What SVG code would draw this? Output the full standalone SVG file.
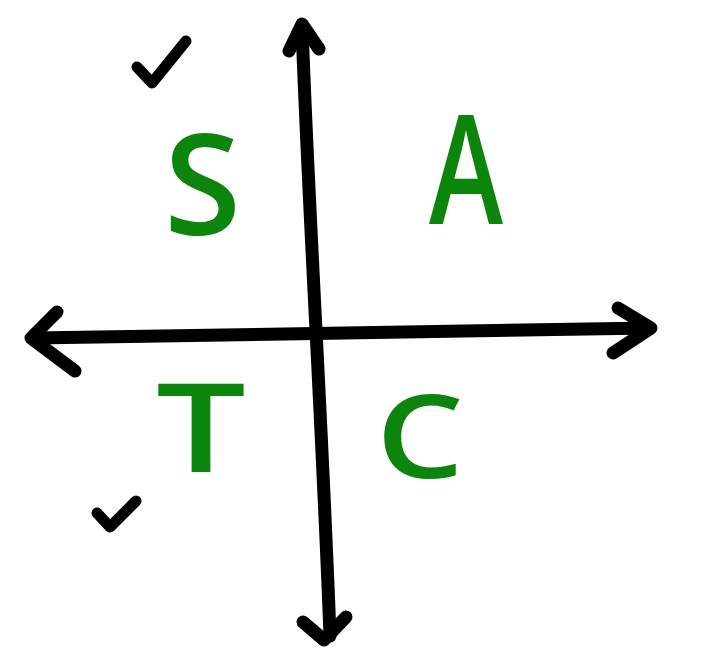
<svg xmlns="http://www.w3.org/2000/svg" width="704" height="651" viewBox="0 0 704 651">
<style>
.ax{fill:none;stroke:#000;stroke-width:13;stroke-linecap:round;stroke-linejoin:round}
.ck{fill:none;stroke:#000;stroke-width:11;stroke-linecap:round;stroke-linejoin:round}
.lt{font-family:"Open Sans","DejaVu Sans",sans-serif;font-weight:600;fill:#0b850b}
</style>
<rect width="704" height="651" fill="#fff"/>
<g id="connectors">
<path class="ax" d="M302,26 C308,200 322,420 330,636"/>
<path class="ax" d="M289,51 L302,24 L319,49"/>
<path class="ax" d="M303,622 L324,640 L346,617"/>
<path class="ax" d="M34,338 C250,335 450,331 650,328"/>
<path class="ax" d="M57,312 L31,338 L75,371"/>
<path class="ax" d="M618,308 L651,328 L613,353"/>
</g>
<g id="check-top"><path class="ck" d="M137,67 L152,83 L186,41"/></g>
<g id="check-bottom"><path class="ck" d="M97,513 L110,527 L136,501"/></g>
<g id="S"><text class="lt" x="164" y="235" font-size="140" textLength="77" lengthAdjust="spacingAndGlyphs">S</text></g>
<g id="A"><text class="lt" x="429" y="224" font-size="152" textLength="74" lengthAdjust="spacingAndGlyphs">A</text></g>
<g id="T"><text class="lt" x="156" y="472" font-size="124" textLength="90" lengthAdjust="spacingAndGlyphs">T</text></g>
<g id="C"><text class="lt" x="376" y="478" font-size="116" textLength="88" lengthAdjust="spacingAndGlyphs">C</text></g>
</svg>
